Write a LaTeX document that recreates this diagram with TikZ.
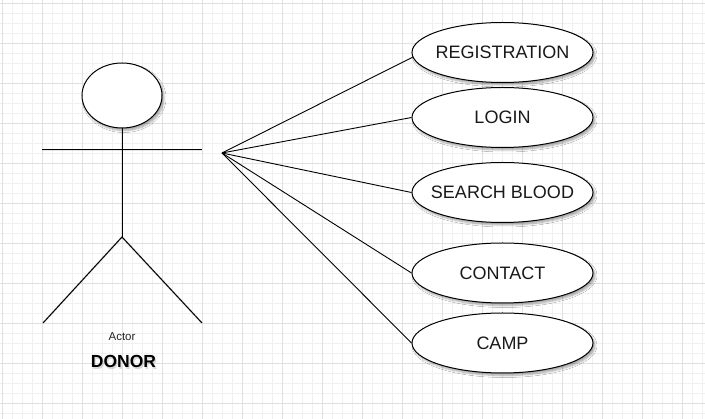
\documentclass[tikz,border=0pt]{standalone}
\usepackage{fontspec}
\setmainfont{Liberation Sans}
\usetikzlibrary{shapes.geometric,shadows.blur}
\definecolor{gridminor}{HTML}{F0F0F0}
\definecolor{gridmajor}{HTML}{E0E0E0}
\definecolor{shadowc}{HTML}{6A6A8A}
\begin{document}
\begin{tikzpicture}[x=1pt,y=-1pt,
  usecase/.style={draw=black, line width=1pt, fill=white, ellipse, minimum width=181pt, minimum height=60pt, inner sep=0pt,
    blur shadow={shadow xshift=2pt, shadow yshift=-2.5pt, shadow blur radius=2pt, shadow opacity=35, shadow blur steps=6},
    label={[font=\fontsize{18}{21}\selectfont, text=black!90]center:#1}},
  stick/.style={line width=1pt, black},
  stickshadow/.style={line width=2pt, shadowc, opacity=0.18},
  conn/.style={line width=0.9pt, black}]
\useasboundingbox (0,0) rectangle (705,419);
\fill[white] (0,0) rectangle (705,419);
% grid
\foreach \x in {2,12,...,702} \draw[gridminor, line width=0.8pt] (\x,0) -- (\x,419);
\foreach \y in {3,13,...,413} \draw[gridminor, line width=0.8pt] (0,\y) -- (705,\y);
\foreach \x in {2,42,...,682} \draw[gridmajor, line width=0.8pt] (\x,0) -- (\x,419);
\foreach \y in {3,43,...,403} \draw[gridmajor, line width=0.8pt] (0,\y) -- (705,\y);
% actor
\coordinate (neck) at (122,128);
\coordinate (hip) at (122,237);
\coordinate (armL) at (42,150);
\coordinate (armR) at (202,150);
\coordinate (footL) at (43,323);
\coordinate (footR) at (202,323);
\begin{scope}[shift={(2,2.5)}]
  \draw[stickshadow] (armL) -- (armR);
  \draw[stickshadow] (neck) -- (hip);
  \draw[stickshadow] (footL) -- (hip) -- (footR);
\end{scope}
\node[draw=black, line width=1pt, fill=white, ellipse, minimum width=80pt, minimum height=65pt, inner sep=0pt,
  blur shadow={shadow xshift=2pt, shadow yshift=-2.5pt, shadow blur radius=2pt, shadow opacity=35, shadow blur steps=6}] (head) at (122,95.5) {};
\draw[stick] (armL) -- (armR);
\draw[stick] (head.south) -- (hip);
\draw[stick] (footL) -- (hip) -- (footR);
\node[font=\fontsize{11.5}{13}\selectfont, text=black!85] (actorlbl) at (122,337) {Actor};
\node[font=\bfseries\fontsize{17.5}{20}\selectfont, text=gray, opacity=0.3] at (124.8,363.2) {DONOR};
\node[font=\bfseries\fontsize{17.5}{20}\selectfont, text=black] (donor) at (123.5,361) {DONOR};
% use cases
\node[usecase=REGISTRATION] (reg) at (502.5,52.5) {};
\node[usecase=LOGIN] (login) at (502.5,117.5) {};
\node[usecase=SEARCH BLOOD] (search) at (502.5,192.5) {};
\node[usecase=CONTACT] (contact) at (502.5,273) {};
\node[usecase=CAMP] (camp) at (502.5,343) {};
% connectors
\coordinate (hub) at (222,153);
\draw[conn] (hub) -- (reg.183);
\draw[conn] (hub) -- (login.west);
\draw[conn] (hub) -- (search.west);
\draw[conn] (hub) -- (contact.west);
\draw[conn] (hub) -- (camp.west);
\end{tikzpicture}
\end{document}
